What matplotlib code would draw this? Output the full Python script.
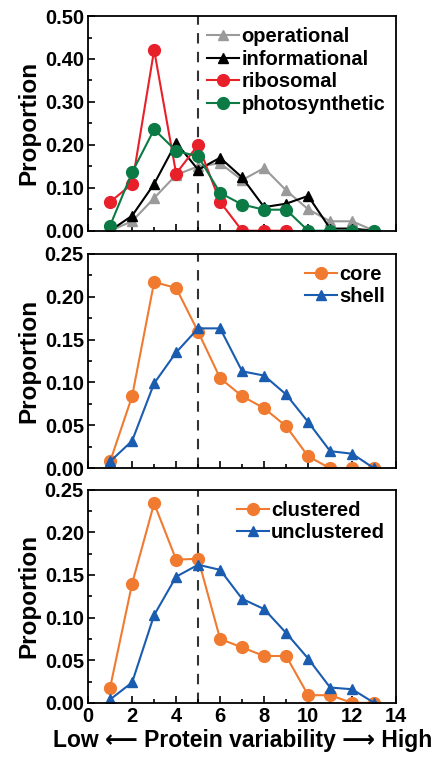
import numpy as np
import matplotlib
matplotlib.use('Agg')
import matplotlib.pyplot as plt
from matplotlib.ticker import MultipleLocator

plt.rcParams['font.family'] = ['Liberation Sans', 'DejaVu Sans']
plt.rcParams['font.weight'] = 'bold'

# === data ===
x = np.arange(1, 14)

operational = [0.0, 0.022, 0.076, 0.13, 0.15, 0.157, 0.118, 0.146, 0.094, 0.05, 0.022, 0.022, 0.0]
informational = [0.0, 0.035, 0.109, 0.205, 0.142, 0.17, 0.124, 0.055, 0.063, 0.081, 0.005, 0.005, 0.0]
ribosomal_x = np.arange(1, 10)
ribosomal = [0.067, 0.109, 0.421, 0.133, 0.2, 0.067, 0.0, 0.0, 0.0]
photosynthetic = [0.012, 0.136, 0.236, 0.186, 0.173, 0.088, 0.061, 0.049, 0.049, 0.0, 0.0, 0.0, 0.0]

core = [0.008, 0.084, 0.217, 0.21, 0.159, 0.105, 0.084, 0.07, 0.049, 0.014, 0.0, 0.0, 0.0]
shell = [0.008, 0.032, 0.099, 0.135, 0.163, 0.163, 0.113, 0.108, 0.086, 0.054, 0.02, 0.017, 0.0]

clustered = [0.018, 0.14, 0.234, 0.168, 0.169, 0.075, 0.065, 0.055, 0.055, 0.009, 0.009, 0.0, 0.0]
unclustered = [0.004, 0.024, 0.103, 0.148, 0.162, 0.156, 0.122, 0.11, 0.082, 0.052, 0.018, 0.016, 0.0]

GRAY = '#9a9a9a'
RED = '#e8202a'
GREEN = '#0b7a45'
ORANGE = '#f07a30'
BLUE = '#1a5cb0'

fig = plt.figure(figsize=(4.32, 7.64), dpi=100)
L, W = 0.204, 0.713
ax1 = fig.add_axes([L, 0.698, W, 0.281])
ax2 = fig.add_axes([L, 0.387, W, 0.281])
ax3 = fig.add_axes([L, 0.080, W, 0.279])

ax1.plot(x, operational, '-^', color=GRAY, ms=7.5, lw=1.5, label='operational')
ax1.plot(x, informational, '-^', color='black', ms=7.5, lw=1.5, label='informational')
ax1.plot(ribosomal_x, ribosomal, '-o', color=RED, ms=8.5, lw=1.5, label='ribosomal')
ax1.plot(x, photosynthetic, '-o', color=GREEN, ms=8.5, lw=1.5, label='photosynthetic')

ax2.plot(x, core, '-o', color=ORANGE, ms=8.5, lw=1.5, label='core')
ax2.plot(x, shell, '-^', color=BLUE, ms=7.5, lw=1.5, label='shell')

ax3.plot(x, clustered, '-o', color=ORANGE, ms=8.5, lw=1.5, label='clustered')
ax3.plot(x, unclustered, '-^', color=BLUE, ms=7.5, lw=1.5, label='unclustered')

for ax, top, major in [(ax1, 0.5, 0.1), (ax2, 0.25, 0.05), (ax3, 0.25, 0.05)]:
    ax.axvline(5, color='#333333', ls=(0, (5, 4)), lw=1.5, zorder=0)
    ax.set_xlim(0, 14)
    ax.set_ylim(0, top)
    ax.yaxis.set_major_locator(MultipleLocator(major))
    ax.yaxis.set_minor_locator(MultipleLocator(major / 2))
    ax.yaxis.set_major_formatter(plt.FormatStrFormatter('%.2f'))
    ax.xaxis.set_major_locator(MultipleLocator(2))
    ax.xaxis.set_minor_locator(MultipleLocator(1))
    ax.tick_params(which='both', direction='in', labelsize=14.5, width=1.2)
    ax.tick_params(which='major', length=5, pad=3)
    ax.tick_params(which='minor', length=3)
    for s in ax.spines.values():
        s.set_linewidth(1.3)
    ax.set_ylabel('Proportion', fontsize=17.5, fontweight='bold', labelpad=3)
    ax.legend(loc='upper right', frameon=False, fontsize=14.5, handlelength=1.6,
              handletextpad=0.1, labelspacing=0.18, borderaxespad=0.15)

ax1.tick_params(labelbottom=False)
ax2.tick_params(labelbottom=False)
ax3.set_xlabel('Low \u27f5 Protein variability \u27f6 High', fontsize=16.5,
               fontweight='bold', labelpad=2)

fig.savefig('out.png', dpi=100)
